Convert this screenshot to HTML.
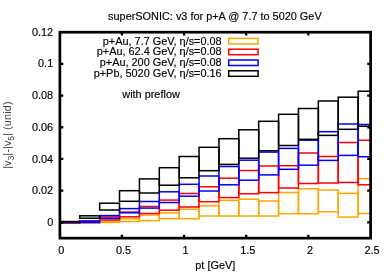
<!DOCTYPE html>
<html><head><meta charset="utf-8"><title>superSONIC: v3 for p+A @ 7.7 to 5020 GeV</title>
<style>
html,body{margin:0;padding:0;background:#fff;overflow:hidden}
svg{display:block;will-change:transform}
text{font-family:"Liberation Sans",sans-serif;font-size:10.9px;fill:#000;stroke:#000;stroke-width:0.15px}
</style></head><body>
<svg width="390" height="273" viewBox="0 0 390 273">
<rect width="390" height="273" fill="#fff"/>
<text x="214.9" y="20.3" text-anchor="middle">superSONIC: v3 for p+A @ 7.7 to 5020 GeV</text>
<text x="221.7" y="44.60" text-anchor="end">p+Au, 7.7 GeV, η/s=0.08</text>
<rect x="228.7" y="38.40" width="29.4" height="5.5" fill="none" stroke="#ffa500" stroke-width="1.5"/>
<text x="221.7" y="55.40" text-anchor="end">p+Au, 62.4 GeV, η/s=0.08</text>
<rect x="228.7" y="49.20" width="29.4" height="5.5" fill="none" stroke="#ff0000" stroke-width="1.5"/>
<text x="221.7" y="66.20" text-anchor="end">p+Au, 200 GeV, η/s=0.08</text>
<rect x="228.7" y="60.00" width="29.4" height="5.5" fill="none" stroke="#0000ff" stroke-width="1.5"/>
<text x="221.7" y="77.00" text-anchor="end">p+Pb, 5020 GeV, η/s=0.16</text>
<rect x="228.7" y="70.80" width="29.4" height="5.5" fill="none" stroke="#000000" stroke-width="1.5"/>
<text x="122.3" y="98" >with preflow</text>
<g fill="none" stroke="#ffa500" stroke-width="1.5">
<rect x="59.90" y="222.50" width="19.88" height="0.50"/>
<rect x="79.78" y="222.00" width="19.88" height="0.80"/>
<rect x="99.66" y="221.40" width="19.88" height="1.00"/>
<rect x="119.54" y="218.80" width="19.88" height="2.70"/>
<rect x="139.42" y="215.10" width="19.88" height="5.50"/>
<rect x="159.30" y="212.90" width="19.88" height="5.80"/>
<rect x="179.18" y="209.20" width="19.88" height="9.50"/>
<rect x="199.06" y="205.80" width="19.88" height="10.20"/>
<rect x="218.94" y="200.30" width="19.88" height="15.70"/>
<rect x="238.82" y="199.20" width="19.88" height="16.80"/>
<rect x="258.70" y="201.00" width="19.88" height="15.00"/>
<rect x="278.58" y="192.50" width="19.88" height="21.20"/>
<rect x="298.46" y="188.80" width="19.88" height="25.00"/>
<rect x="318.34" y="190.00" width="19.88" height="21.80"/>
<rect x="338.22" y="193.30" width="19.88" height="23.80"/>
<path d="M370.60 178.70H358.10V213.60H370.60"/>
</g>
<g fill="none" stroke="#ff0000" stroke-width="1.5">
<rect x="59.90" y="222.40" width="19.88" height="0.60"/>
<rect x="79.78" y="221.60" width="19.88" height="1.00"/>
<rect x="99.66" y="217.00" width="19.88" height="3.00"/>
<rect x="119.54" y="212.10" width="19.88" height="4.70"/>
<rect x="139.42" y="206.50" width="19.88" height="7.00"/>
<rect x="159.30" y="200.10" width="19.88" height="10.10"/>
<rect x="179.18" y="193.50" width="19.88" height="13.50"/>
<rect x="199.06" y="186.80" width="19.88" height="14.90"/>
<rect x="218.94" y="178.20" width="19.88" height="19.40"/>
<rect x="238.82" y="170.50" width="19.88" height="23.30"/>
<rect x="258.70" y="166.00" width="19.88" height="26.60"/>
<rect x="278.58" y="165.70" width="19.88" height="22.30"/>
<rect x="298.46" y="153.00" width="19.88" height="30.50"/>
<rect x="318.34" y="156.50" width="19.88" height="26.50"/>
<rect x="338.22" y="142.50" width="19.88" height="39.90"/>
<path d="M370.60 140.20H358.10V184.80H370.60"/>
</g>
<g fill="none" stroke="#0000ff" stroke-width="1.5">
<rect x="59.90" y="222.00" width="19.88" height="0.60"/>
<rect x="79.78" y="220.95" width="19.88" height="1.40"/>
<rect x="99.66" y="215.60" width="19.88" height="2.80"/>
<rect x="119.54" y="208.60" width="19.88" height="4.20"/>
<rect x="139.42" y="201.50" width="19.88" height="6.60"/>
<rect x="159.30" y="191.80" width="19.88" height="10.70"/>
<rect x="179.18" y="184.30" width="19.88" height="11.90"/>
<rect x="199.06" y="176.00" width="19.88" height="15.00"/>
<rect x="218.94" y="166.50" width="19.88" height="18.30"/>
<rect x="238.82" y="160.20" width="19.88" height="20.00"/>
<rect x="258.70" y="152.10" width="19.88" height="22.80"/>
<rect x="278.58" y="148.40" width="19.88" height="20.90"/>
<rect x="298.46" y="140.20" width="19.88" height="25.00"/>
<rect x="318.34" y="131.70" width="19.88" height="28.70"/>
<rect x="338.22" y="124.00" width="19.88" height="31.40"/>
<path d="M370.60 124.50H358.10V156.70H370.60"/>
</g>
<g fill="none" stroke="#000000" stroke-width="1.5">
<rect x="59.90" y="221.50" width="19.88" height="0.40"/>
<rect x="79.78" y="215.80" width="19.88" height="2.35"/>
<rect x="99.66" y="203.20" width="19.88" height="6.80"/>
<rect x="119.54" y="190.70" width="19.88" height="10.60"/>
<rect x="139.42" y="178.90" width="19.88" height="14.10"/>
<rect x="159.30" y="167.70" width="19.88" height="17.50"/>
<rect x="179.18" y="156.50" width="19.88" height="21.30"/>
<rect x="199.06" y="147.30" width="19.88" height="23.40"/>
<rect x="218.94" y="138.70" width="19.88" height="25.70"/>
<rect x="238.82" y="129.80" width="19.88" height="28.40"/>
<rect x="258.70" y="121.30" width="19.88" height="29.50"/>
<rect x="278.58" y="114.30" width="19.88" height="31.20"/>
<rect x="298.46" y="108.50" width="19.88" height="30.80"/>
<rect x="318.34" y="101.00" width="19.88" height="34.40"/>
<rect x="338.22" y="97.20" width="19.88" height="32.10"/>
<path d="M370.60 91.30H358.10V126.30H370.60"/>
</g>
<path d="M121.90 238.15v-3.4M121.90 32.2v3.4M184.05 238.15v-3.4M184.05 32.2v3.4M246.20 238.15v-3.4M246.20 32.2v3.4M308.35 238.15v-3.4M308.35 32.2v3.4M59.9 32.20h3.4M370.6 32.20h-3.4M59.9 63.88h3.4M370.6 63.88h-3.4M59.9 95.57h3.4M370.6 95.57h-3.4M59.9 127.25h3.4M370.6 127.25h-3.4M59.9 158.93h3.4M370.6 158.93h-3.4M59.9 190.62h3.4M370.6 190.62h-3.4M59.9 222.30h3.4M370.6 222.30h-3.4" stroke="#000" stroke-width="2.3" fill="none"/>
<rect x="59.9" y="32.2" width="310.70" height="205.95" fill="none" stroke="#000" stroke-width="2.7"/>
<text x="61.35" y="253.5" text-anchor="middle">0</text>
<text x="123.50" y="253.5" text-anchor="middle">0.5</text>
<text x="185.65" y="253.5" text-anchor="middle">1</text>
<text x="247.80" y="253.5" text-anchor="middle">1.5</text>
<text x="309.95" y="253.5" text-anchor="middle">2</text>
<text x="372.10" y="253.5" text-anchor="middle">2.5</text>
<text x="53.2" y="35.80" text-anchor="end">0.12</text>
<text x="53.2" y="67.48" text-anchor="end">0.1</text>
<text x="53.2" y="99.17" text-anchor="end">0.08</text>
<text x="53.2" y="130.85" text-anchor="end">0.06</text>
<text x="53.2" y="162.53" text-anchor="end">0.04</text>
<text x="53.2" y="194.22" text-anchor="end">0.02</text>
<text x="53.2" y="225.90" text-anchor="end">0</text>
<text x="215.3" y="269.4" text-anchor="middle">pt [GeV]</text>
<text transform="translate(11,168.75) rotate(-90)" style="fill:#444;stroke:none">|v<tspan dy="3.4" font-size="8.7">3</tspan><tspan dy="-3.4">|</tspan><tspan dx="0.4">-</tspan><tspan dx="-0.2">|v</tspan><tspan dy="3.4" font-size="8.7">5</tspan><tspan dy="-3.4" dx="0">|</tspan><tspan dx="-0.3" letter-spacing="0.18"> (unid)</tspan></text>
</svg>
</body></html>
